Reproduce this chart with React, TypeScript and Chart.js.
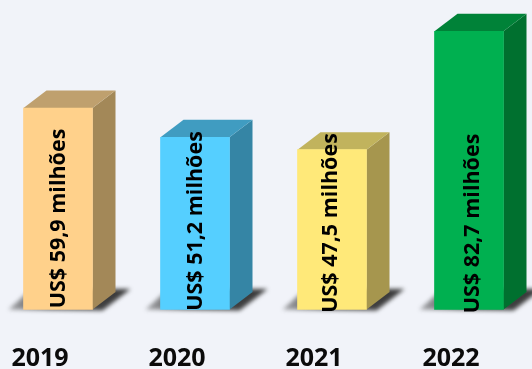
import { useEffect, useRef } from "react";
import { Chart, registerables } from "chart.js";

Chart.register(...registerables);

const years = ["2019", "2020", "2021", "2022"];
const revenue = [59.9, 51.2, 47.5, 82.7];
const frontColors = ["#FFD18B", "#55CFFF", "#FFE979", "#00B050"];
const sideColors = ["#A38858", "#3585A5", "#A6964E", "#00702F"];
const topColors = ["#BFA06E", "#409CC1", "#C1B35D", "#008238"];

// Small per-column nudges for the rotated captions: [across, along]
const captionNudge = [[1, -2.5], [0.5, 0], [-1.5, 2], [4, 2.5]];

const DEPTH_X = 23;
const DEPTH_Y = 17.5;
const PAGE_BG = "#F1F3F9";

const formatCaption = (v: number) => `US$ ${v.toFixed(1).replace(".", ",")} milhões`;

// Extrudes every bar into a box and lays a soft floor shadow behind it.
const boxPlugin = {
  id: "boxes",
  beforeDatasetsDraw(chart: any) {
    const { ctx } = chart;
    chart.getDatasetMeta(0).data.forEach((bar: any, i: number) => {
      const left = bar.x - bar.width / 2;
      const right = bar.x + bar.width / 2;

      ctx.save();
      ctx.filter = "blur(2px)";
      const shade = ctx.createLinearGradient(left - 15, 0, right + 38, 0);
      shade.addColorStop(0, "rgba(45,45,45,0.4)");
      shade.addColorStop(0.35, "rgba(45,45,45,0.85)");
      shade.addColorStop(1, "rgba(45,45,45,0.95)");
      ctx.fillStyle = shade;
      ctx.beginPath();
      ctx.moveTo(left - 15, bar.base);
      ctx.lineTo(left + 8, bar.base - DEPTH_Y - 3);
      ctx.lineTo(right + 38, bar.base - DEPTH_Y - 3);
      ctx.lineTo(right + 10, bar.base + 1);
      ctx.closePath();
      ctx.fill();
      ctx.restore();

      ctx.fillStyle = sideColors[i];
      ctx.beginPath();
      ctx.moveTo(right, bar.y);
      ctx.lineTo(right + DEPTH_X, bar.y - DEPTH_Y);
      ctx.lineTo(right + DEPTH_X, bar.base - DEPTH_Y);
      ctx.lineTo(right, bar.base);
      ctx.closePath();
      ctx.fill();

      ctx.fillStyle = topColors[i];
      ctx.beginPath();
      ctx.moveTo(left, bar.y);
      ctx.lineTo(left + DEPTH_X, bar.y - DEPTH_Y);
      ctx.lineTo(right + DEPTH_X, bar.y - DEPTH_Y);
      ctx.lineTo(right, bar.y);
      ctx.closePath();
      ctx.fill();
    });
  },
  afterDatasetsDraw(chart: any) {
    const { ctx } = chart;
    chart.getDatasetMeta(0).data.forEach((bar: any, i: number) => {
      ctx.save();
      ctx.translate(bar.x + captionNudge[i][0], 221 + captionNudge[i][1]);
      ctx.rotate(-Math.PI / 2);
      ctx.font = "bold 21.5px 'Open Sans'";
      ctx.fillStyle = "#000";
      ctx.textAlign = "center";
      ctx.textBaseline = "middle";
      ctx.fillText(formatCaption(revenue[i]), 0, 0);
      ctx.restore();
    });
  },
};

export default function App() {
  const canvasRef = useRef<HTMLCanvasElement | null>(null);

  useEffect(() => {
    document.body.style.margin = "0";
    document.body.style.background = PAGE_BG;
    const chart = new Chart(canvasRef.current!, {
      type: "bar",
      data: {
        labels: years,
        datasets: [
          {
            data: revenue,
            backgroundColor: frontColors,
            borderWidth: 0,
            barThickness: 69,
            clip: false,
          },
        ],
      },
      options: {
        animation: false,
        responsive: false,
        layout: { padding: { left: 58, right: 63, top: 0, bottom: 0 } },
        plugins: { legend: { display: false }, tooltip: { enabled: false } },
        scales: {
          x: {
            offset: false,
            grid: { display: false },
            border: { display: false },
            afterFit: (scale: any) => {
              scale.height = 59.5;
            },
            ticks: {
              autoSkip: false,
              maxRotation: 0,
              labelOffset: -18,
              padding: 26,
              color: "#0B0B0B",
              font: { family: "'Open Sans'", weight: "bold", size: 25 },
            },
          },
          y: { display: false, min: 0, max: 92 },
        },
      },
      plugins: [boxPlugin],
    });
    return () => chart.destroy();
  }, []);

  return <canvas ref={canvasRef} width={532} height={369} style={{ display: "block" }} />;
}
